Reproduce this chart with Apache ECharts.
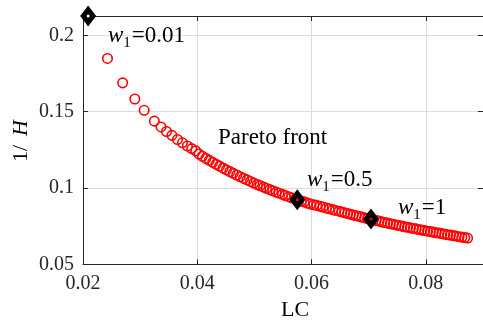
<!DOCTYPE html>
<html><head><meta charset="utf-8">
<script src="https://cdn.jsdelivr.net/npm/echarts@6/dist/echarts.min.js"></script>
<style>html,body{margin:0;padding:0;background:#fff}#c{width:483px;height:320px}</style>
</head><body><div id="c"></div>
<script>
// Pareto front points (LC, 1/H)
const lcValues = [
  0.02428, 0.02694, 0.02907, 0.03070, 0.03249, 0.03365, 0.03462, 0.03556, 0.03653, 0.03740,
  0.03827, 0.03903, 0.03972,
  0.0403, 0.0409, 0.0415, 0.0421, 0.0427, 0.0433, 0.0439, 0.0445, 0.0451, 0.0457,
  0.0463, 0.0469, 0.0475, 0.0481, 0.0487, 0.0493, 0.0499,
  0.0505, 0.0510, 0.0516, 0.0521, 0.0527, 0.0532, 0.0538, 0.0543, 0.0549, 0.0554,
  0.0560, 0.0565, 0.0571, 0.0576, 0.0582, 0.0587, 0.0593, 0.0598, 0.0604, 0.0609,
  0.0615, 0.0620, 0.0626, 0.0631, 0.0637, 0.0642, 0.0648,
  0.0653, 0.0658, 0.0663, 0.0668, 0.0673, 0.0678, 0.0683, 0.0688, 0.0693, 0.0698,
  0.0703, 0.0708, 0.0713, 0.0718, 0.0723, 0.0728, 0.0733, 0.0738, 0.0743, 0.0748,
  0.0753, 0.0758, 0.0763, 0.0768, 0.0773, 0.0778, 0.0783, 0.0788, 0.0793, 0.0798,
  0.0803, 0.0808, 0.0813, 0.0818, 0.0823, 0.0828, 0.0833, 0.0838, 0.0843, 0.0848,
  0.0853, 0.0858, 0.0863, 0.0868, 0.0873
];
const invHValues = [
  0.1849, 0.1689, 0.1583, 0.1509, 0.1438, 0.1400, 0.1370, 0.1345, 0.1318, 0.1296,
  0.1275, 0.1258, 0.1243,
  0.1223, 0.1208, 0.1194, 0.1181, 0.1168, 0.1155, 0.1143, 0.1130, 0.1119, 0.1107,
  0.1096, 0.1085, 0.1074, 0.1063, 0.1053, 0.1043, 0.1033,
  0.1023, 0.1015, 0.1006, 0.0998, 0.0989, 0.0982, 0.0973, 0.0966, 0.0958, 0.0951,
  0.0943, 0.0936, 0.0929, 0.0922, 0.0915, 0.0909, 0.0901, 0.0895, 0.0890, 0.0886,
  0.0880, 0.0875, 0.0869, 0.0864, 0.0858, 0.0853, 0.0848,
  0.0843, 0.0838, 0.0833, 0.0828, 0.0823, 0.0818, 0.0814, 0.0809, 0.0804, 0.0800,
  0.0796, 0.0791, 0.0787, 0.0783, 0.0778, 0.0774, 0.0770, 0.0766, 0.0762, 0.0758,
  0.0754, 0.0750, 0.0746, 0.0743, 0.0739, 0.0735, 0.0732, 0.0728, 0.0724, 0.0721,
  0.0717, 0.0714, 0.0711, 0.0707, 0.0704, 0.0701, 0.0697, 0.0694, 0.0691, 0.0688,
  0.0685, 0.0681, 0.0678, 0.0675, 0.0672
];
// Highlighted weight solutions
const weightLabels = ['0.01', '0.5', '1'];
const diamondLC = [0.0209, 0.0575, 0.0704];
const diamondInvH = [0.2127, 0.0923, 0.0797];
const dotColors = ['#ffffff', '#ff0000', '#ff0000'];

const xMin = 0.02, xMax = 0.09, xStep = 0.02;
const yMin = 0.05, yMax = 0.2127, yStep = 0.05;

const font = '"Liberation Serif","Times New Roman",serif';
const axisCol = '#262626';
const fmt = v => String(+(+v).toFixed(3));

const chart = echarts.init(document.getElementById('c'), null, {renderer: 'canvas'});

function axisBase(extra) {
  return Object.assign({
    type: 'value',
    axisLine: {show: true, onZero: false, lineStyle: {color: axisCol, width: 1}},
    axisTick: {show: true, inside: true, length: 5, lineStyle: {color: axisCol, width: 1}},
    splitLine: {show: false}
  }, extra);
}

const labelRich = {
  w: {fontFamily: font, fontStyle: 'italic', fontSize: 23, fill: '#000'},
  s: {fontFamily: font, fontSize: 15, fill: '#000', padding: [14, 1, 0, 0]},
  t: {fontFamily: font, fontSize: 23, fill: '#000'}
};
const labelPos = [[108, 36], [307, 180], [398, 208]];

const graphics = weightLabels.map((w, i) => ({
  type: 'text', x: labelPos[i][0], y: labelPos[i][1], z: 100,
  style: {text: '{w|w}{s|1}{t|=' + w + '}', rich: labelRich, align: 'left', verticalAlign: 'middle'}
}));
graphics.push({
  type: 'text', x: 218, y: 138, z: 100,
  style: {text: 'Pareto front', font: '23px ' + font, fill: '#000', align: 'left', verticalAlign: 'middle'}
});
graphics.push({
  type: 'text', x: 295, y: 310, z: 100,
  style: {text: 'LC', font: '22px ' + font, fill: '#000', align: 'center', verticalAlign: 'middle'}
});
graphics.push({
  type: 'text', x: 21, y: 141, rotation: Math.PI / 2, z: 100,
  style: {
    text: '{a|1/}{b|H}', align: 'center', verticalAlign: 'middle',
    rich: {
      a: {fontFamily: font, fontSize: 22, fill: '#000'},
      b: {fontFamily: font, fontSize: 22, fontStyle: 'italic', fill: '#000', padding: [0, 0, 0, 9]}
    }
  }
});

const option = {
  animation: false,
  backgroundColor: '#fff',
  grid: {left: 83, top: 16, width: 403.5, height: 248.3, containLabel: false},
  xAxis: [
    axisBase({
      min: xMin, max: xMax, interval: xStep, position: 'bottom',
      axisLabel: {showMaxLabel: false, margin: 9, color: axisCol, fontFamily: font, fontSize: 20, formatter: fmt},
      splitLine: {show: true, lineStyle: {color: '#dcdcdc', width: 1}}
    }),
    axisBase({
      min: xMin, max: xMax, interval: xStep, position: 'top',
      axisLabel: {show: false}
    })
  ],
  yAxis: [
    axisBase({
      min: yMin, max: yMax, interval: yStep, position: 'left',
      axisLabel: {showMaxLabel: false, margin: 9, color: axisCol, fontFamily: font, fontSize: 20, formatter: fmt},
      splitLine: {show: true, lineStyle: {color: '#dcdcdc', width: 1}}
    }),
    axisBase({
      min: yMin, max: yMax, interval: yStep, position: 'right',
      axisLabel: {show: false}
    })
  ],
  series: [
    {
      type: 'scatter', name: 'Pareto front', clip: false, z: 2,
      symbol: 'circle', symbolSize: 9.5,
      itemStyle: {color: 'rgba(0,0,0,0)', borderColor: '#ff0000', borderWidth: 1.6, opacity: 1},
      emphasis: {disabled: true},
      data: lcValues.map((x, i) => [x, invHValues[i]])
    },
    {
      type: 'scatter', name: 'weights', clip: false, z: 3,
      symbol: 'diamond', symbolSize: [16, 21],
      itemStyle: {color: '#000', opacity: 1},
      emphasis: {disabled: true},
      data: diamondLC.map((x, i) => [x, diamondInvH[i]])
    },
    {
      type: 'scatter', name: 'dots', clip: false, z: 4,
      symbol: 'circle', symbolSize: 3,
      emphasis: {disabled: true},
      data: diamondLC.map((x, i) => ({value: [x, diamondInvH[i]], itemStyle: {color: dotColors[i], opacity: 1}}))
    }
  ],
  graphic: graphics
};
chart.setOption(option);
</script>
</body></html>
